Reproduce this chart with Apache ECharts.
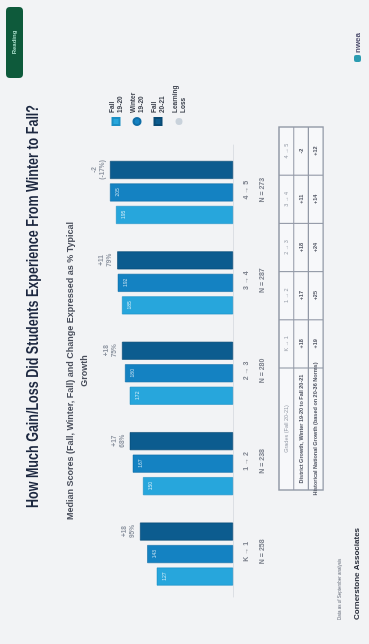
<!DOCTYPE html>
<html>
<head>
<meta charset="utf-8">
<script src="https://cdn.jsdelivr.net/npm/echarts@6/dist/echarts.min.js"></script>
<style>
html,body{margin:0;padding:0;width:369px;height:644px;overflow:hidden;background:#f2f3f5;}
#slide{position:absolute;left:0;top:644px;width:644px;height:369px;transform-origin:0 0;transform:rotate(-90deg);}
</style>
</head>
<body>
<div id="slide"></div>
<script>
// ---- data ----
const categories = ['K \u2192 1', '1 \u2192 2', '2 \u2192 3', '3 \u2192 4', '4 \u2192 5'];
const nCounts = ['N = 258', 'N = 238', 'N = 280', 'N = 287', 'N = 273'];
const seriesNames = ['Fall\n19-20', 'Winter\n19-20', 'Fall\n20-21', 'Learning\nLoss'];
const fall1920 = [127, 150, 172, 185, 195];
const winter1920 = [143, 167, 180, 192, 205];
const fall2021 = [155, 172, 185, 193, 205];
const growthLabels = ['+18', '+17', '+18', '+11', '-2'];
const pctLabels = ['95%', '68%', '75%', '79%', '(-17%)'];
const tableHeader = 'Grades (Fall 20-21)';
const rowLabels = ['District Growth, Winter 19-20 to Fall 20-21', 'Historical National Growth (based on 20-36 Norms)'];
const districtGrowth = ['+18', '+17', '+18', '+11', '-2'];
const nationalGrowth = ['+19', '+25', '+24', '+14', '+12'];
const titleText = 'How Much Gain/Loss Did Students Experience From Winter to Fall?';
const subtitleLines = ['Median Scores (Fall, Winter, Fall) and Change Expressed as % Typical', 'Growth'];

const colors = ['#27a6dc', '#1482c2', '#0c5c8f', '#c9d2db'];

function fitScale(text, font, target) {
  const c = document.createElement('canvas').getContext('2d');
  c.font = font;
  return target / c.measureText(text).width;
}
const FF = '"Liberation Sans", Arial, sans-serif';
const titleScale = fitScale(titleText, 'bold 16px ' + FF, 403);
const subScale = fitScale(subtitleLines[0], 'bold 8.5px ' + FF, 298);

const chart = echarts.init(document.getElementById('slide'), null, {renderer: 'canvas'});

// table geometry (slide coords)
const tX0 = 154, tX1 = 517, tY0 = 279, rowH = 14.7;
const labelColW = 122;
const colW = (tX1 - tX0 - labelColW) / 5;
const tableGraphics = [];
tableGraphics.push({type: 'rect', shape: {x: tX0, y: tY0, width: tX1 - tX0, height: rowH * 3}, style: {fill: '#f7f8fa', stroke: '#9299a6', lineWidth: 1.4}, silent: true});
for (let r = 1; r < 3; r++) {
  tableGraphics.push({type: 'line', shape: {x1: tX0, y1: tY0 + r * rowH, x2: tX1, y2: tY0 + r * rowH}, style: {stroke: '#9299a6', lineWidth: 1.1}, silent: true});
}
for (let c = 0; c < 5; c++) {
  const x = tX0 + labelColW + c * colW;
  tableGraphics.push({type: 'line', shape: {x1: x, y1: tY0, x2: x, y2: tY0 + rowH * 3}, style: {stroke: '#9299a6', lineWidth: 1.1}, silent: true});
}
const tText = (txt, x, y, color, bold) => ({type: 'text', x: x, y: y, silent: true,
  style: {text: txt, align: 'center', verticalAlign: 'middle', fontSize: 5.5, fontWeight: bold ? 'bold' : 'normal', fontFamily: FF, fill: color}});
tableGraphics.push(tText(tableHeader, tX0 + labelColW / 2, tY0 + rowH * 0.5, '#9aa0ab', false));
tableGraphics.push(tText(rowLabels[0], tX0 + labelColW / 2, tY0 + rowH * 1.5, '#4e5361', true));
tableGraphics.push(tText(rowLabels[1], tX0 + labelColW / 2, tY0 + rowH * 2.5, '#4e5361', true));
for (let c = 0; c < 5; c++) {
  const cx = tX0 + labelColW + (c + 0.5) * colW;
  tableGraphics.push(tText(categories[c], cx, tY0 + rowH * 0.5, '#9aa0ab', false));
  tableGraphics.push(tText(districtGrowth[c], cx, tY0 + rowH * 1.5, '#4e5361', true));
  tableGraphics.push(tText(nationalGrowth[c], cx, tY0 + rowH * 2.5, '#4e5361', true));
}

const option = {
  backgroundColor: '#f2f3f5',
  animation: false,
  textStyle: {fontFamily: FF},
  grid: {left: 47, right: 145, top: 101, bottom: 136},
  legend: {
    orient: 'vertical', left: 513, top: 101, itemWidth: 7, itemHeight: 7, itemGap: 1,
    data: [
      {name: seriesNames[0], icon: 'rect'},
      {name: seriesNames[1], icon: 'circle'},
      {name: seriesNames[2], icon: 'rect'},
      {name: seriesNames[3], icon: 'circle'}
    ],
    textStyle: {fontSize: 6.5, lineHeight: 8, fontWeight: 'bold', color: '#3b404c', padding: [4, 0, 0, 0]}
  },
  xAxis: {
    type: 'category', data: categories,
    axisLine: {lineStyle: {color: '#dcdfe4', width: 1}},
    axisTick: {show: false},
    axisLabel: {
      margin: 5, interval: 0,
      formatter: (v, i) => '{a|' + v + '}\n{b|' + nCounts[i] + '}',
      rich: {a: {fontSize: 7, lineHeight: 16, color: '#7d828d', fontWeight: 'bold'}, b: {fontSize: 7, lineHeight: 16, color: '#7d828d', fontWeight: 'bold'}}
    }
  },
  yAxis: {type: 'value', min: 0, max: 220, show: false, splitLine: {show: false}},
  series: [
    {name: seriesNames[0], type: 'bar', data: fall1920, barWidth: 18, barGap: '25%', barCategoryGap: '30%',
     itemStyle: {color: colors[0], borderColor: '#1b8fc4', borderWidth: 0.6},
     label: {show: true, position: 'insideTop', distance: 5, fontSize: 5, color: 'rgba(255,255,255,0.75)'}},
    {name: seriesNames[1], type: 'bar', data: winter1920, barWidth: 18, barGap: '25%',
     itemStyle: {color: colors[1], borderColor: '#0f6da6', borderWidth: 0.6},
     label: {show: true, position: 'insideTop', distance: 5, fontSize: 5, color: 'rgba(255,255,255,0.7)'}},
    {name: seriesNames[2], type: 'bar', data: fall2021.map((v, i) => ({value: v,
       label: {formatter: growthLabels[i] + '\n' + pctLabels[i]}})), barWidth: 18, barGap: '25%',
     itemStyle: {color: colors[2], borderColor: '#084a74', borderWidth: 0.6},
     label: {show: true, position: 'top', distance: 4, fontSize: 6.5, lineHeight: 8, color: '#8e95a1', fontWeight: 'bold'}},
    {name: seriesNames[3], type: 'bar', data: [], itemStyle: {color: colors[3]}}
  ],
  graphic: [
    {type: 'text', x: 136, y: 34, scaleX: titleScale, silent: true,
     style: {text: titleText, fontSize: 16, fontWeight: 'bold', fontFamily: FF, fill: '#1d2840', verticalAlign: 'middle'}},
    {type: 'text', x: 273, y: 71, scaleX: subScale, silent: true,
     style: {text: subtitleLines[0], fontSize: 8.5, fontWeight: 'bold', fontFamily: FF, fill: '#4a4f5c', align: 'center', verticalAlign: 'middle'}},
    {type: 'text', x: 273, y: 85, scaleX: subScale, silent: true,
     style: {text: subtitleLines[1], fontSize: 8.5, fontWeight: 'bold', fontFamily: FF, fill: '#4a4f5c', align: 'center', verticalAlign: 'middle'}},
    {type: 'rect', shape: {x: 566, y: 6, width: 71, height: 17, r: 4}, style: {fill: '#0e5a3b'}, silent: true},
    {type: 'text', x: 601.5, y: 14.5, silent: true,
     style: {text: 'Reading', fontSize: 6, fontWeight: 'bold', fontFamily: FF, fill: '#a6dcc8', align: 'center', verticalAlign: 'middle'}},
    ...tableGraphics,
    {type: 'text', x: 24, y: 340, silent: true,
     style: {text: 'Data as of September analysis', fontSize: 4.5, fontFamily: FF, fill: '#6d7380', verticalAlign: 'middle'}},
    {type: 'text', x: 24, y: 357, silent: true,
     style: {text: 'Cornerstone Associates', fontSize: 8, fontWeight: 'bold', fontFamily: FF, fill: '#2a2f3c', verticalAlign: 'middle'}},
    {type: 'rect', shape: {x: 582, y: 354, width: 7, height: 7, r: 2}, style: {fill: '#2a9bb0'}, silent: true},
    {type: 'text', x: 591, y: 358, silent: true,
     style: {text: 'nwea', fontSize: 8, fontWeight: 'bold', fontFamily: FF, fill: '#4b4a6b', verticalAlign: 'middle'}}
  ]
};
chart.setOption(option);
</script>
</body>
</html>
